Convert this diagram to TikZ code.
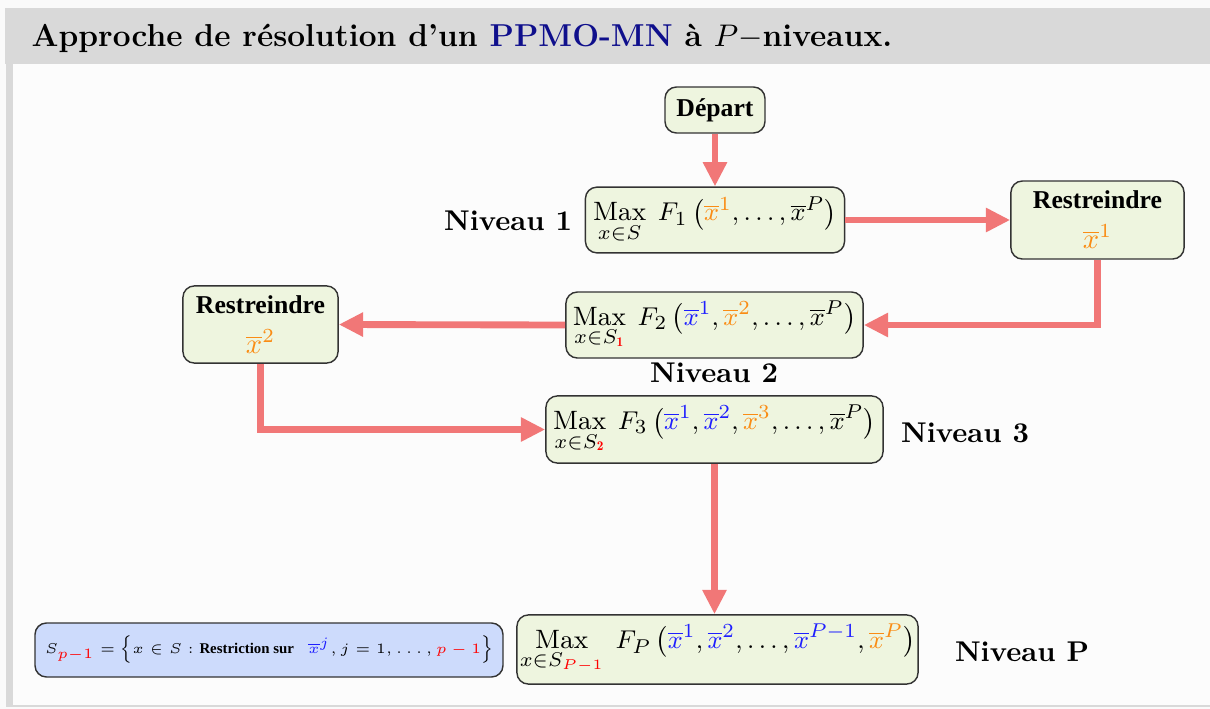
\documentclass[tikz,border=0pt]{standalone}
\usepackage{amsmath}
\usepackage{fontspec}
\newfontfamily\timesf{Liberation Serif}
\usetikzlibrary{arrows.meta}
\definecolor{bgout}{RGB}{250,250,250}
\definecolor{bgin}{RGB}{252,252,252}
\definecolor{barc}{RGB}{217,217,217}
\definecolor{boxg}{RGB}{238,245,223}
\definecolor{boxb}{RGB}{205,219,252}
\definecolor{arrc}{RGB}{241,119,119}
\definecolor{myor}{RGB}{250,140,20}
\definecolor{myblue}{RGB}{30,30,255}
\definecolor{navyt}{RGB}{15,15,140}
\newcommand{\xb}{\overline{x}}
\begin{document}
\begin{tikzpicture}[x=0.35pt,y=-0.35pt,
  box/.style={draw=black!80, fill=boxg, rounded corners=4pt, line width=0.5pt, inner sep=0pt, align=center},
  mbox/.style={box, font=\fontsize{9.3}{11}\selectfont},
  arr/.style={draw=arrc, line width=2.4pt, -{Triangle[length=8.5pt,width=8pt]}},
  lvl/.style={font=\bfseries}]
\fill[bgout] (0,0) rectangle (1210,709);
\useasboundingbox (0,0) rectangle (1210,709);
\fill[bgin] (6,64) rectangle (1210,706);
\fill[barc] (5,8) rectangle (1210,64);
\fill[barc] (6,64) rectangle (13,707);
\draw[barc, line width=0.5pt] (13,706) -- (1210,706);
\node[anchor=base west, font=\bfseries\fontsize{11.1}{13}\selectfont, inner sep=0pt] (title) at (31,46)
  {Approche de résolution d'un \textcolor{navyt}{PPMO-MN} à $P-$niveaux.};
% nodes
\node[box, minimum width=35pt, minimum height=16.1pt, font=\timesf\bfseries\small] (dep) at (715,110) {Départ};
\node[mbox, minimum width=90.7pt, minimum height=23pt] (f1) at (715,220)
  {$\operatorname*{Max}\limits_{x\in S}\; F_1\,\big(\textcolor{myor}{\xb^1},\dots,\xb^P\big)$};
\node[box, minimum width=60.6pt, minimum height=27.3pt] (r1) at (1097.5,220)
  {{\timesf\bfseries\small Restreindre}\\[2pt] $\textcolor{myor}{\xb^1}$};
\node[mbox, minimum width=104pt, minimum height=23.1pt] (f2) at (714.5,325)
  {$\operatorname*{Max}\limits_{x\in S_{\textcolor{red}{\mathbf{1}}}}\; F_2\,\big(\textcolor{myblue}{\xb^1},\textcolor{myor}{\xb^2},\dots,\xb^P\big)$};
\node[box, minimum width=54.3pt, minimum height=27pt] (r2) at (260.5,324.5)
  {{\timesf\bfseries\small Restreindre}\\[2pt] $\textcolor{myor}{\xb^2}$};
\node[mbox, minimum width=118pt, minimum height=23.5pt] (f3) at (714.5,429.5)
  {$\operatorname*{Max}\limits_{x\in S_{\textcolor{red}{\mathbf{2}}}}\; F_3\,\big(\textcolor{myblue}{\xb^1},\textcolor{myblue}{\xb^2},\textcolor{myor}{\xb^3},\dots,\xb^P\big)$};
\node[mbox, minimum width=140.4pt, minimum height=24.2pt] (fp) at (717.5,649.5)
  {$\operatorname*{Max}\limits_{x\in S_{\textcolor{red}{P-1}}}\; F_P\,\big(\textcolor{myblue}{\xb^1},\textcolor{myblue}{\xb^2},\dots,\textcolor{myblue}{\xb^{P-1}},\textcolor{myor}{\xb^P}\big)$};
\node[box, fill=boxb, minimum width=163.8pt, minimum height=18.9pt, font=\fontsize{5.35}{7}\selectfont] (sdef) at (269,650)
  {$S_{\textcolor{red}{p-1}}=\Big\{x\in S:\text{\timesf\bfseries\fontsize{5.2}{6}\selectfont Restriction sur}\ \ \textcolor{myblue}{\xb^j}, j=1,\dots,\textcolor{red}{p-1}\Big\}$};
% labels
\node[lvl] (n1) at (508,221) {Niveau 1};
\node[lvl] (n2) at (714,373) {Niveau 2};
\node[lvl] (n3) at (965,433) {Niveau 3};
\node[lvl] (np) at (1022,652) {Niveau P};
% arrows
\draw[arr] (dep.south) -- (f1.north);
\draw[arr] (f1.east) -- (r1.west);
\draw[arr] (r1.south) |- (f2.east);
\draw[arr] (f2.west) -- (r2.east);
\draw[arr] (r2.south) |- (f3.west);
\draw[arr] (f3.south) -- (f3.south |- fp.north);
\end{tikzpicture}
\end{document}
